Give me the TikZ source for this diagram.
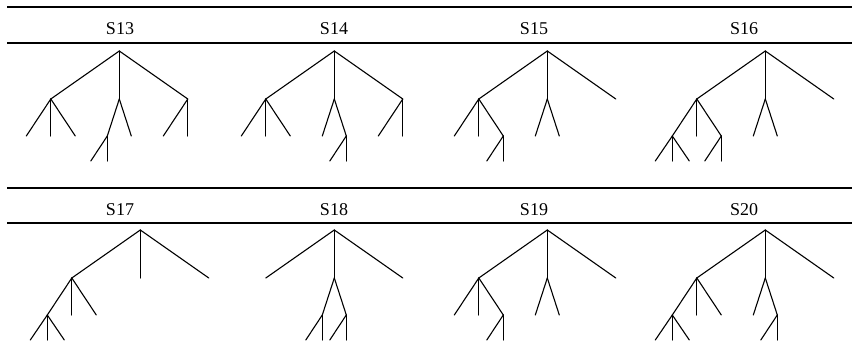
\documentclass[tikz,border=0pt]{standalone}
\usepackage{fontspec}
\setmainfont{Liberation Serif}
\begin{document}
\begin{tikzpicture}[x=1pt,y=-1pt,
  rule/.style={line width=1.4pt},
  branch/.style={line width=1.1pt, line cap=round, line join=round},
  head/.style={font=\fontsize{18}{20}\selectfont, anchor=base, inner sep=0pt}]
\useasboundingbox (0,0) rectangle (852,342);

% table rules
\draw[rule] (7,7) -- (852,7);
\draw[rule] (7,43) -- (852,43);
\draw[rule] (7,188) -- (852,188);
\draw[rule] (7,223) -- (852,223);

% column heads
\node[head] (h13) at (120,35) {S13};
\node[head] (h14) at (334,35) {S14};
\node[head] (h15) at (534,35) {S15};
\node[head] (h16) at (744,35) {S16};
\node[head] (h17) at (120,215.5) {S17};
\node[head] (h18) at (334,215.5) {S18};
\node[head] (h19) at (534,215.5) {S19};
\node[head] (h20) at (744,215.5) {S20};

% ---- S13
\begin{scope}[shift={(119.3,51)}]
  \coordinate (t13) at (0,0);
  \coordinate (t13a) at (-68.5,48); \coordinate (t13b) at (0,48); \coordinate (t13c) at (68.5,48);
  \coordinate (t13aa) at (-93,85); \coordinate (t13ab) at (-68.5,85); \coordinate (t13ac) at (-44,85);
  \coordinate (t13ba) at (-12,85); \coordinate (t13bb) at (12,85);
  \coordinate (t13ca) at (44,85); \coordinate (t13cb) at (68.5,85);
  \coordinate (t13baa) at (-28.5,110); \coordinate (t13bab) at (-12,110);
\end{scope}
\foreach \u/\v in {t13/t13a,t13/t13b,t13/t13c,t13a/t13aa,t13a/t13ab,t13a/t13ac,
  t13b/t13ba,t13b/t13bb,t13c/t13ca,t13c/t13cb,t13ba/t13baa,t13ba/t13bab}
  \draw[branch] (\u) -- (\v);

% ---- S14
\begin{scope}[shift={(334.3,51)}]
  \coordinate (t14) at (0,0);
  \coordinate (t14a) at (-68.5,48); \coordinate (t14b) at (0,48); \coordinate (t14c) at (68.5,48);
  \coordinate (t14aa) at (-93,85); \coordinate (t14ab) at (-68.5,85); \coordinate (t14ac) at (-44,85);
  \coordinate (t14ba) at (-12,85); \coordinate (t14bb) at (12,85);
  \coordinate (t14ca) at (44,85); \coordinate (t14cb) at (68.5,85);
  \coordinate (t14bba) at (-4.5,110); \coordinate (t14bbb) at (12,110);
\end{scope}
\foreach \u/\v in {t14/t14a,t14/t14b,t14/t14c,t14a/t14aa,t14a/t14ab,t14a/t14ac,
  t14b/t14ba,t14b/t14bb,t14c/t14ca,t14c/t14cb,t14bb/t14bba,t14bb/t14bbb}
  \draw[branch] (\u) -- (\v);

% ---- S15
\begin{scope}[shift={(547.3,51)}]
  \coordinate (t15) at (0,0);
  \coordinate (t15a) at (-68.5,48); \coordinate (t15b) at (0,48); \coordinate (t15c) at (68.5,48);
  \coordinate (t15aa) at (-93,85); \coordinate (t15ab) at (-68.5,85); \coordinate (t15ac) at (-44,85);
  \coordinate (t15ba) at (-12,85); \coordinate (t15bb) at (12,85);
  \coordinate (t15aca) at (-60.5,110); \coordinate (t15acb) at (-44,110);
\end{scope}
\foreach \u/\v in {t15/t15a,t15/t15b,t15/t15c,t15a/t15aa,t15a/t15ab,t15a/t15ac,
  t15b/t15ba,t15b/t15bb,t15ac/t15aca,t15ac/t15acb}
  \draw[branch] (\u) -- (\v);

% ---- S16
\begin{scope}[shift={(765.3,51)}]
  \coordinate (t16) at (0,0);
  \coordinate (t16a) at (-68.5,48); \coordinate (t16b) at (0,48); \coordinate (t16c) at (68.5,48);
  \coordinate (t16aa) at (-93,85); \coordinate (t16ab) at (-68.5,85); \coordinate (t16ac) at (-44,85);
  \coordinate (t16ba) at (-12,85); \coordinate (t16bb) at (12,85);
  \coordinate (t16aaa) at (-110,110); \coordinate (t16aab) at (-93,110); \coordinate (t16aac) at (-76,110);
  \coordinate (t16aca) at (-60.5,110); \coordinate (t16acb) at (-44,110);
\end{scope}
\foreach \u/\v in {t16/t16a,t16/t16b,t16/t16c,t16a/t16aa,t16a/t16ab,t16a/t16ac,
  t16b/t16ba,t16b/t16bb,t16aa/t16aaa,t16aa/t16aab,t16aa/t16aac,t16ac/t16aca,t16ac/t16acb}
  \draw[branch] (\u) -- (\v);

% ---- S17
\begin{scope}[shift={(140.3,230)}]
  \coordinate (t17) at (0,0);
  \coordinate (t17a) at (-68.5,48); \coordinate (t17b) at (0,48); \coordinate (t17c) at (68.5,48);
  \coordinate (t17aa) at (-93,85); \coordinate (t17ab) at (-68.5,85); \coordinate (t17ac) at (-44,85);
  \coordinate (t17aaa) at (-110,110); \coordinate (t17aab) at (-93,110); \coordinate (t17aac) at (-76,110);
\end{scope}
\foreach \u/\v in {t17/t17a,t17/t17b,t17/t17c,t17a/t17aa,t17a/t17ab,t17a/t17ac,
  t17aa/t17aaa,t17aa/t17aab,t17aa/t17aac}
  \draw[branch] (\u) -- (\v);

% ---- S18
\begin{scope}[shift={(334.3,230)}]
  \coordinate (t18) at (0,0);
  \coordinate (t18a) at (-68.5,48); \coordinate (t18b) at (0,48); \coordinate (t18c) at (68.5,48);
  \coordinate (t18ba) at (-12,85); \coordinate (t18bb) at (12,85);
  \coordinate (t18baa) at (-28.5,110); \coordinate (t18bab) at (-12,110);
  \coordinate (t18bba) at (-4.5,110); \coordinate (t18bbb) at (12,110);
\end{scope}
\foreach \u/\v in {t18/t18a,t18/t18b,t18/t18c,t18b/t18ba,t18b/t18bb,
  t18ba/t18baa,t18ba/t18bab,t18bb/t18bba,t18bb/t18bbb}
  \draw[branch] (\u) -- (\v);

% ---- S19
\begin{scope}[shift={(547.3,230)}]
  \coordinate (t19) at (0,0);
  \coordinate (t19a) at (-68.5,48); \coordinate (t19b) at (0,48); \coordinate (t19c) at (68.5,48);
  \coordinate (t19aa) at (-93,85); \coordinate (t19ab) at (-68.5,85); \coordinate (t19ac) at (-44,85);
  \coordinate (t19ba) at (-12,85); \coordinate (t19bb) at (12,85);
  \coordinate (t19aca) at (-60.5,110); \coordinate (t19acb) at (-44,110);
\end{scope}
\foreach \u/\v in {t19/t19a,t19/t19b,t19/t19c,t19a/t19aa,t19a/t19ab,t19a/t19ac,
  t19b/t19ba,t19b/t19bb,t19ac/t19aca,t19ac/t19acb}
  \draw[branch] (\u) -- (\v);

% ---- S20
\begin{scope}[shift={(765.3,230)}]
  \coordinate (t20) at (0,0);
  \coordinate (t20a) at (-68.5,48); \coordinate (t20b) at (0,48); \coordinate (t20c) at (68.5,48);
  \coordinate (t20aa) at (-93,85); \coordinate (t20ab) at (-68.5,85); \coordinate (t20ac) at (-44,85);
  \coordinate (t20ba) at (-12,85); \coordinate (t20bb) at (12,85);
  \coordinate (t20aaa) at (-110,110); \coordinate (t20aab) at (-93,110); \coordinate (t20aac) at (-76,110);
  \coordinate (t20bba) at (-4.5,110); \coordinate (t20bbb) at (12,110);
\end{scope}
\foreach \u/\v in {t20/t20a,t20/t20b,t20/t20c,t20a/t20aa,t20a/t20ab,t20a/t20ac,
  t20b/t20ba,t20b/t20bb,t20aa/t20aaa,t20aa/t20aab,t20aa/t20aac,t20bb/t20bba,t20bb/t20bbb}
  \draw[branch] (\u) -- (\v);
\end{tikzpicture}
\end{document}
